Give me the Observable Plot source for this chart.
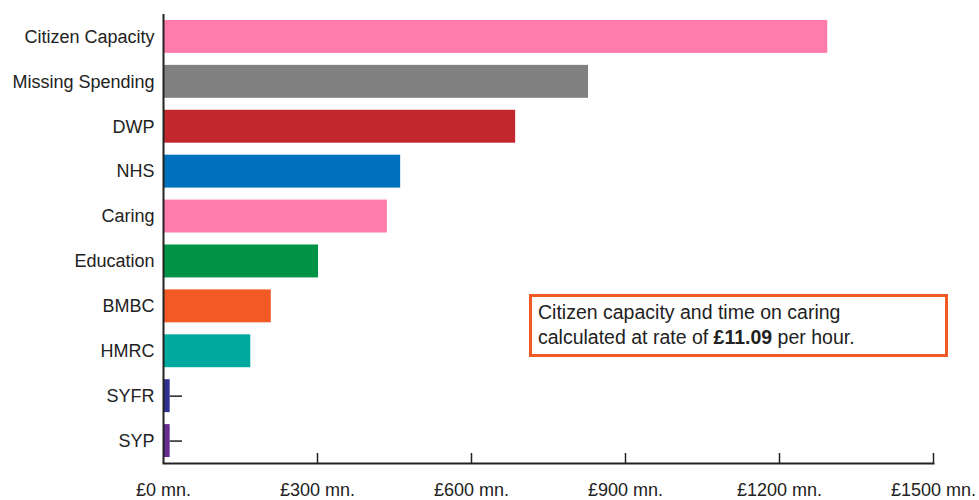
<!DOCTYPE html>
<html>
<head>
<meta charset="utf-8">
<script src="https://cdn.jsdelivr.net/npm/d3@7"></script>
<script src="https://cdn.jsdelivr.net/npm/@observablehq/plot@0.6"></script>
<style>
  html, body { margin: 0; padding: 0; background: #fff; }
  #wrap { position: relative; width: 979px; height: 500px; }
  #note {
    position: absolute; left: 529px; top: 294px; box-sizing: border-box;
    width: 419px; height: 63px; border: 3px solid #f15a24; background: #fff;
    font-family: "Liberation Sans", Arial, sans-serif; font-size: 19.5px; line-height: 25px;
    color: #222; padding: 3px 0 0 6px; white-space: nowrap;
  }
</style>
</head>
<body>
<div id="wrap"></div>
<script>
const categories = ["Citizen Capacity", "Missing Spending", "DWP", "NHS", "Caring", "Education", "BMBC", "HMRC", "SYFR", "SYP"];
const values = [1294, 828, 686, 462, 436, 302, 210, 170, 13, 13];
const colors = ["#ff7bac", "#808080", "#c1272d", "#0071bc", "#ff7bac", "#009245", "#f15a24", "#00a99d", "#2e3192", "#662d91"];
const leaderCategories = ["SYFR", "SYP"];
const leaderEnds = [37, 37];
const tickValues = [0, 300, 600, 900, 1200, 1500];

const data = categories.map((c, i) => ({cat: c, value: values[i], color: colors[i]}));
const leaders = leaderCategories.map((c, i) => ({cat: c, start: values[categories.indexOf(c)], end: leaderEnds[i]}));

const chart = Plot.plot({
  width: 979,
  height: 500,
  marginLeft: 163,
  marginRight: 46,
  marginTop: 14,
  marginBottom: 37,
  style: {fontFamily: "'Liberation Sans', Arial, sans-serif", fontSize: "18px", color: "#222", background: "#fff"},
  x: {domain: [0, 1500]},
  y: {domain: categories, paddingInner: 0.267, paddingOuter: 0.133, round: false},
  marks: [
    Plot.barX(data, {x: "value", y: "cat", fill: "color"}),
    Plot.ruleY(leaders, {y: "cat", x1: "start", x2: "end", stroke: "#222", strokeWidth: 1.5}),
    Plot.axisY({tickSize: 0, tickPadding: 9, label: null, fontSize: 18}),
    Plot.axisX({ticks: tickValues.slice(1), tickSize: -10, text: null, label: null, stroke: "#222", strokeWidth: 1.5}),
    Plot.axisX({ticks: tickValues, tickSize: 0, tickPadding: 20, tickFormat: d => `£${d} mn.`, label: null, fontSize: 18}),
    Plot.ruleX([0], {stroke: "#222", strokeWidth: 2}),
    Plot.frame({anchor: "bottom", stroke: "#222", strokeWidth: 2})
  ]
});
document.getElementById("wrap").appendChild(chart);
const note = document.createElement("div");
note.id = "note";
note.innerHTML = "Citizen capacity and time on caring<br>calculated at rate of <b>£11.09</b> per hour.";
document.getElementById("wrap").appendChild(note);
</script>
</body>
</html>
